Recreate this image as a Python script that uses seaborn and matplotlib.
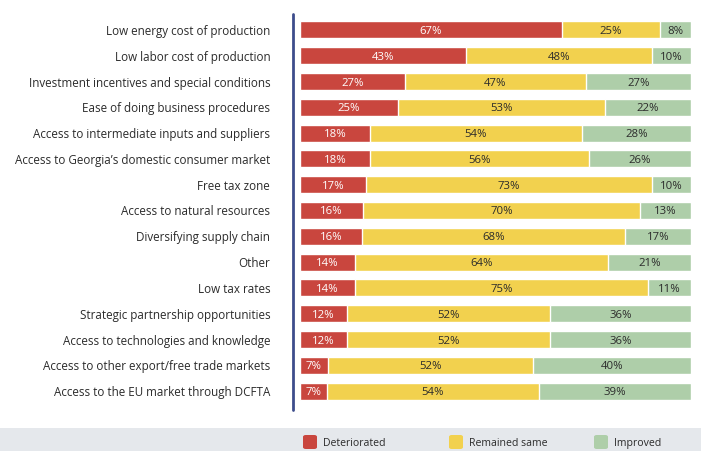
import matplotlib
matplotlib.use("Agg")
import matplotlib.pyplot as plt
from matplotlib.patches import Rectangle, FancyBboxPatch
from matplotlib.lines import Line2D
import numpy as np
import pandas as pd
import seaborn as sns

categories = [
    "Low energy cost of production",
    "Low labor cost of production",
    "Investment incentives and special conditions",
    "Ease of doing business procedures",
    "Access to intermediate inputs and suppliers",
    "Access to Georgia\u2019s domestic consumer market",
    "Free tax zone",
    "Access to natural resources",
    "Diversifying supply chain",
    "Other",
    "Low tax rates",
    "Strategic partnership opportunities",
    "Access to technologies and knowledge",
    "Access to other export/free trade markets",
    "Access to the EU market through DCFTA",
]
deteriorated = [67, 43, 27, 25, 18, 18, 17, 16, 16, 14, 14, 12, 12, 7, 7]
remained = [25, 48, 47, 53, 54, 56, 73, 70, 68, 64, 75, 52, 52, 52, 54]
improved = [8, 10, 27, 22, 28, 26, 10, 13, 17, 21, 11, 36, 36, 40, 39]

series_names = ["Deteriorated", "Remained same", "Improved"]
colors = ["#c9463e", "#f2d14e", "#aecea9"]
text_colors = ["#ffffff", "#2b2b2b", "#2b2b2b"]

sns.set_theme(style="white")
plt.rcParams["font.family"] = ["Open Sans", "DejaVu Sans"]

df = pd.DataFrame({
    "category": categories,
    "Deteriorated": deteriorated,
    "Remained same": remained,
    "Improved": improved,
})
vals = df[series_names].to_numpy(dtype=float)
totals = vals.sum(axis=1, keepdims=True)
shares = vals / totals * 100
cum = np.cumsum(shares, axis=1)
starts = cum - shares

fig = plt.figure(figsize=(7.01, 4.51), dpi=100)
ax = fig.add_axes([300 / 701, 1 - 404 / 451, 391 / 701, 387 / 451])

# stacked bars: draw the cumulative totals from the outermost segment inward
for j in range(2, -1, -1):
    sns.barplot(x=cum[:, j], y=df["category"], orient="h", color=colors[j],
                width=0.66, saturation=1, ax=ax, order=categories)

for i in range(len(categories)):
    for j in range(3):
        ax.text(starts[i, j] + shares[i, j] / 2, i, f"{int(vals[i, j])}%",
                ha="center", va="center_baseline", fontsize=8.2,
                color=text_colors[j])

ax.set_xlim(0, 100)
ax.set_ylim(len(categories) - 0.5, -0.5)
ax.set_xlabel("")
ax.set_ylabel("")
ax.set_xticks([])
ax.tick_params(axis="y", length=0, pad=21.5, labelsize=8.4, labelcolor="#2b2b2b")
for s in ax.spines.values():
    s.set_visible(False)

# vertical axis rule
fig.add_artist(Line2D([292.5 / 701, 292.5 / 701], [1 - 14 / 451, 1 - 410 / 451],
                      transform=fig.transFigure, color="#3d4d8c", lw=2))

# legend band
fig.add_artist(Rectangle((0, 0), 1, 23.5 / 451, transform=fig.transFigure,
                         facecolor="#e5e8ec", edgecolor="none", zorder=0))
legend_x = [303, 449, 594]
yc = 1 - 442 / 451
for name, c, x in zip(series_names, colors, legend_x):
    fig.add_artist(FancyBboxPatch((x / 701, yc - 7 / 451), 14 / 701, 14 / 451,
                                  boxstyle="round,pad=0,rounding_size=0.004",
                                  transform=fig.transFigure, facecolor=c,
                                  edgecolor="none"))
    fig.text((x + 20) / 701, yc, name, ha="left", va="center_baseline",
             fontsize=7.6, color="#2b2b2b")

fig.savefig("out.png", dpi=100)
